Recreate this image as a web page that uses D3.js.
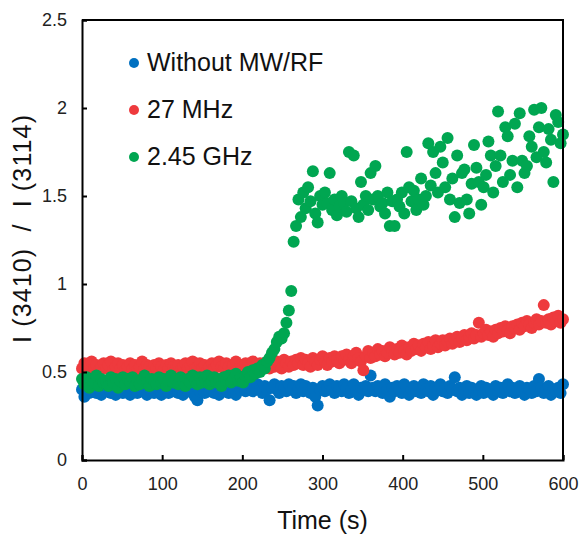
<!DOCTYPE html>
<html>
<head>
<meta charset="utf-8">
<script src="https://cdn.jsdelivr.net/npm/d3@7"></script>
<style>
  body { margin: 0; background: #fff; }
  text { font-family: "Liberation Sans", Arial, sans-serif; }
</style>
</head>
<body>
<div id="chart"></div>
<script>
var seriesNames = ["Without MW/RF", "27 MHz", "2.45 GHz"];
var seriesColors = ["#0070c0", "#ee3a3d", "#00a651"];
var xTicks = [0, 100, 200, 300, 400, 500, 600];
var yTicks = [0, 0.5, 1, 1.5, 2, 2.5];

var times = [
    0, 3, 6, 9, 12, 15, 18, 21, 24, 27,
    30, 33, 36, 39, 42, 45, 48, 51, 54, 57,
    60, 63, 66, 69, 72, 75, 78, 81, 84, 87,
    90, 93, 96, 99, 102, 105, 108, 111, 114, 117,
    120, 123, 126, 129, 132, 135, 138, 141, 144, 147,
    150, 153, 156, 159, 162, 165, 168, 171, 174, 177,
    180, 183, 186, 189, 192, 195, 198, 201, 204, 207,
    210, 213, 216, 219, 222, 225, 228, 231, 234, 237,
    240, 243, 246, 249, 252, 255, 258, 261, 264, 267,
    270, 273, 276, 279, 282, 285, 288, 291, 294, 297,
    300, 303, 306, 309, 312, 315, 318, 321, 324, 327,
    330, 333, 336, 339, 342, 345, 348, 351, 354, 357,
    360, 363, 366, 369, 372, 375, 378, 381, 384, 387,
    390, 393, 396, 399, 402, 405, 408, 411, 414, 417,
    420, 423, 426, 429, 432, 435, 438, 441, 444, 447,
    450, 453, 456, 459, 462, 465, 468, 471, 474, 477,
    480, 483, 486, 489, 492, 495, 498, 501, 504, 507,
    510, 513, 516, 519, 522, 525, 528, 531, 534, 537,
    540, 543, 546, 549, 552, 555, 558, 561, 564, 567,
    570, 573, 576, 579, 582, 585, 588, 591, 594, 597,
    600
];

// without MW/RF
var noField = [
    0.40, 0.36, 0.41, 0.38, 0.39, 0.42, 0.38, 0.40, 0.37, 0.41,
    0.39, 0.42, 0.38, 0.40, 0.37, 0.41, 0.39, 0.38, 0.42, 0.39,
    0.37, 0.40, 0.41, 0.38, 0.42, 0.39, 0.40, 0.37, 0.41, 0.39,
    0.38, 0.41, 0.40, 0.37, 0.39, 0.42, 0.38, 0.40, 0.39, 0.41,
    0.38, 0.40, 0.37, 0.41, 0.39, 0.40, 0.38, 0.36, 0.34, 0.39,
    0.41, 0.38, 0.40, 0.39, 0.42, 0.38, 0.40, 0.37, 0.41, 0.39,
    0.40, 0.38, 0.42, 0.39, 0.37, 0.41, 0.40, 0.43, 0.39, 0.41,
    0.42, 0.39, 0.41, 0.43, 0.40, 0.38, 0.42, 0.40, 0.34, 0.41,
    0.43, 0.40, 0.38, 0.42, 0.41, 0.39, 0.43, 0.40, 0.42, 0.38,
    0.41, 0.43, 0.39, 0.42, 0.40, 0.38, 0.41, 0.36, 0.31, 0.40,
    0.42, 0.39, 0.41, 0.43, 0.40, 0.38, 0.42, 0.40, 0.39, 0.43,
    0.41, 0.38, 0.40, 0.43, 0.39, 0.37, 0.41, 0.40, 0.42, 0.39,
    0.48, 0.41, 0.39, 0.42, 0.40, 0.38, 0.43, 0.40, 0.36, 0.41,
    0.39, 0.42, 0.40, 0.38, 0.43, 0.41, 0.37, 0.40, 0.42, 0.39,
    0.41, 0.38, 0.43, 0.40, 0.39, 0.42, 0.37, 0.41, 0.40, 0.43,
    0.39, 0.41, 0.38, 0.42, 0.40, 0.47, 0.39, 0.41, 0.37, 0.40,
    0.42, 0.38, 0.41, 0.39, 0.37, 0.40, 0.42, 0.38, 0.41, 0.39,
    0.40, 0.37, 0.42, 0.39, 0.41, 0.38, 0.40, 0.43, 0.39, 0.41,
    0.38, 0.40, 0.42, 0.39, 0.37, 0.41, 0.40, 0.38, 0.42, 0.39,
    0.46, 0.41, 0.38, 0.40, 0.42, 0.37, 0.40, 0.39, 0.41, 0.38,
    0.43
];

// 27 MHz
var rf27 = [
    0.52, 0.55, 0.51, 0.53, 0.56, 0.52, 0.54, 0.51, 0.53, 0.55,
    0.52, 0.54, 0.56, 0.51, 0.53, 0.55, 0.52, 0.54, 0.51, 0.53,
    0.55, 0.52, 0.54, 0.51, 0.53, 0.56, 0.52, 0.54, 0.53, 0.51,
    0.54, 0.52, 0.55, 0.53, 0.51, 0.54, 0.52, 0.55, 0.53, 0.52,
    0.54, 0.51, 0.53, 0.55, 0.52, 0.54, 0.56, 0.52, 0.53, 0.55,
    0.52, 0.54, 0.51, 0.53, 0.55, 0.52, 0.54, 0.56, 0.53, 0.52,
    0.55, 0.53, 0.51, 0.54, 0.56, 0.52, 0.54, 0.53, 0.55, 0.52,
    0.54, 0.56, 0.53, 0.51, 0.55, 0.53, 0.54, 0.56, 0.52, 0.55,
    0.53, 0.56, 0.54, 0.52, 0.57, 0.55, 0.53, 0.56, 0.54, 0.57,
    0.55, 0.58, 0.54, 0.57, 0.55, 0.53, 0.58, 0.56, 0.54, 0.57,
    0.59, 0.56, 0.54, 0.58, 0.56, 0.59, 0.57, 0.55, 0.59, 0.57,
    0.60, 0.57, 0.55, 0.59, 0.61, 0.58, 0.56, 0.51, 0.59, 0.62,
    0.58, 0.61, 0.59, 0.63, 0.60, 0.62, 0.59, 0.61, 0.64, 0.62,
    0.60, 0.63, 0.61, 0.65, 0.62, 0.60, 0.64, 0.62, 0.66, 0.63,
    0.65, 0.62, 0.66, 0.64, 0.67, 0.63, 0.65, 0.68, 0.64, 0.66,
    0.68, 0.65, 0.67, 0.69, 0.66, 0.68, 0.70, 0.67, 0.69, 0.71,
    0.68, 0.70, 0.72, 0.69, 0.71, 0.78, 0.70, 0.72, 0.74, 0.71,
    0.73, 0.70, 0.74, 0.72, 0.75, 0.73, 0.76, 0.74, 0.72, 0.76,
    0.75, 0.77, 0.74, 0.78, 0.76, 0.79, 0.77, 0.75, 0.78, 0.80,
    0.77, 0.79, 0.88, 0.78, 0.80, 0.77, 0.81, 0.79, 0.82, 0.78,
    0.80
];

// 2.45 GHz
var mw245 = [
    0.46, 0.43, 0.47, 0.41, 0.45, 0.44, 0.48, 0.42, 0.46, 0.44,
    0.45, 0.42, 0.47, 0.44, 0.46, 0.41, 0.45, 0.47, 0.43, 0.46,
    0.44, 0.47, 0.42, 0.45, 0.43, 0.46, 0.48, 0.44, 0.42, 0.46,
    0.45, 0.43, 0.47, 0.44, 0.46, 0.42, 0.45, 0.48, 0.44, 0.46,
    0.43, 0.47, 0.45, 0.42, 0.46, 0.44, 0.48, 0.45, 0.43, 0.47,
    0.44, 0.46, 0.48, 0.43, 0.45, 0.47, 0.44, 0.46, 0.42, 0.47,
    0.45, 0.48, 0.44, 0.46, 0.49, 0.45, 0.47, 0.44, 0.48, 0.50,
    0.47, 0.51, 0.49, 0.52, 0.50, 0.54, 0.52, 0.56, 0.58, 0.61,
    0.63, 0.67, 0.70, 0.69, 0.72, 0.78, 0.85, 0.96, 1.24, 1.33,
    1.48, 1.38, 1.52, 1.43, 1.55, 1.47, 1.64, 1.40, 1.35, 1.50,
    1.45, 1.52, 1.46, 1.63, 1.42, 1.48, 1.39, 1.44, 1.50, 1.46,
    1.41, 1.75, 1.47, 1.73, 1.43, 1.38, 1.58, 1.45, 1.50, 1.42,
    1.63, 1.48, 1.67, 1.50, 1.44, 1.46, 1.40, 1.52, 1.33, 1.47,
    1.33, 1.48, 1.44, 1.52, 1.40, 1.75, 1.55, 1.47, 1.53, 1.42,
    1.48, 1.60, 1.45, 1.50, 1.80, 1.56, 1.75, 1.63, 1.52, 1.78,
    1.69, 1.55, 1.83, 1.48, 1.60, 1.38, 1.73, 1.46, 1.63, 1.65,
    1.48, 1.40, 1.57, 1.79, 1.66, 1.58, 1.45, 1.55, 1.62, 1.81,
    1.73, 1.52, 1.67, 1.98, 1.73, 1.58, 1.89, 1.84, 1.62, 1.70,
    1.91, 1.55, 1.97, 1.70, 1.63, 1.67, 1.84, 1.78, 1.99, 1.72,
    1.89, 2.00, 1.75, 1.69, 1.88, 1.82, 1.58, 1.96, 1.92, 1.80,
    1.85
];

var seriesValues = [noField, rf27, mw245];

function init() {
    var margin = { top: 20, right: 17, bottom: 75, left: 82 },
        width = 580 - margin.left - margin.right,
        height = 535 - margin.top - margin.bottom;

    var svg = d3.select("#chart")
        .append("svg")
        .attr("width", 580)
        .attr("height", 535);

    var g = svg.append("g")
        .attr("transform", "translate(" + margin.left + "," + margin.top + ")");

    var x = d3.scaleLinear().domain([0, 600]).range([0, width]);
    var y = d3.scaleLinear().domain([0, 2.5]).range([height, 0]);

    // points, blue under red under green
    seriesValues.forEach(function (vals, i) {
        g.append("g")
            .selectAll("circle")
            .data(vals)
            .enter()
            .append("circle")
            .attr("cx", function (d, j) { return x(times[j]); })
            .attr("cy", function (d) { return y(d); })
            .attr("r", 6)
            .style("fill", seriesColors[i]);
    });

    var xAxis = g.append("g")
        .attr("transform", "translate(0," + height + ")")
        .call(d3.axisBottom(x).tickValues(xTicks).tickSize(-5).tickPadding(17).tickFormat(function (d) { return d; }));

    var yAxis = g.append("g")
        .call(d3.axisLeft(y).tickValues(yTicks).tickSize(-5).tickPadding(15).tickFormat(function (d) { return d; }));

    [xAxis, yAxis].forEach(function (ax) {
        ax.select(".domain").attr("stroke", "#000").attr("stroke-width", 2);
        ax.selectAll(".tick line").attr("stroke", "#000").attr("stroke-width", 2);
        ax.selectAll(".tick text")
            .attr("fill", "#222")
            .style("font-size", "18px")
            .style("font-family", "'Liberation Sans', Arial, sans-serif");
    });

    // frame top and right
    g.append("path")
        .attr("d", "M0,0H" + width + "V" + height)
        .attr("fill", "none")
        .attr("stroke", "#000")
        .attr("stroke-width", 2);

    // legend
    var legend = g.append("g");
    seriesNames.forEach(function (name, i) {
        legend.append("circle")
            .attr("cx", 52)
            .attr("cy", 43 + i * 47)
            .attr("r", 5)
            .style("fill", seriesColors[i]);
        legend.append("text")
            .attr("x", 65)
            .attr("y", 51 + i * 47)
            .style("font-size", "25px")
            .attr("fill", "#111")
            .text(name);
    });

    svg.append("text")
        .attr("x", margin.left + width / 2)
        .attr("y", 529)
        .attr("text-anchor", "middle")
        .style("font-size", "25px")
        .attr("fill", "#111")
        .text("Time (s)");

    svg.append("text")
        .attr("transform", "translate(31,229) rotate(-90)")
        .attr("text-anchor", "middle")
        .attr("textLength", 228)
        .attr("lengthAdjust", "spacing")
        .style("font-size", "25px")
        .style("white-space", "pre")
        .attr("fill", "#111")
        .text("I (3410)  /  I (3114)");
}

window.onload = init;
</script>
</body>
</html>
